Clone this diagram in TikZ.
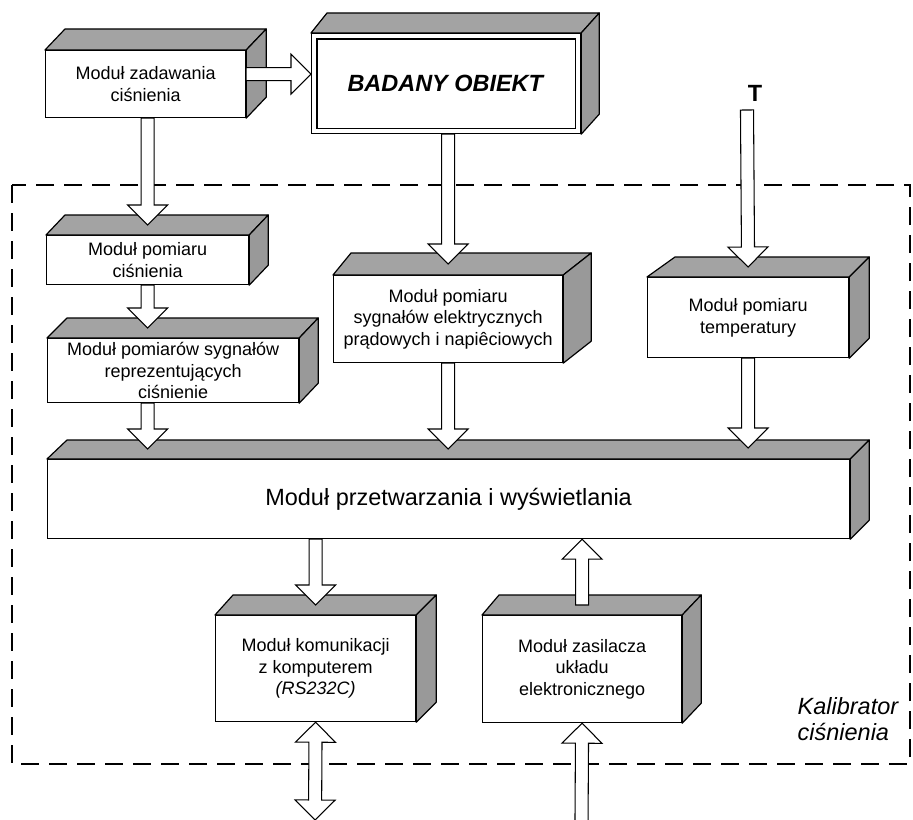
\documentclass[tikz,border=0pt]{standalone}
\usepackage{fontspec}
\setmainfont{Liberation Sans}
\usetikzlibrary{calc}

\tikzset{
  front/.style={draw, line width=0.9pt, fill=white, anchor=north west, inner sep=0pt, align=center, font=\fontsize{13.5}{16.3}\selectfont},
  boxwh/.style 2 args={minimum width=#1*0.75pt, minimum height=#2*0.75pt},
  bigtext/.style={font=\fontsize{17.6}{19.5}\selectfont},
  topface/.style={draw, line width=0.9pt, fill=black!36, line join=round},
  sideface/.style={draw, line width=0.9pt, fill=black!40, line join=round},
  blockarrow/.style={draw, line width=0.8pt, fill=white},
  frame/.style={line width=1.1pt, dash pattern=on 13.5pt off 7.5pt},
}

\newcommand{\shaftw}{4.9pt}
\newcommand{\headw}{15pt}
\newcommand{\headlen}{15pt}

% top and right faces of a box: name, dx left, dx right, dy
\newcommand{\cubefaces}[4]{%
  \draw[topface] (#1.north west) -- ++(#2,-#4) -- ($(#1.north east)+(#3,-#4)$) -- (#1.north east) -- cycle;
  \draw[sideface] (#1.north east) -- ++(#3,-#4) -- ($(#1.south east)+(#3,-#4)$) -- (#1.south east) -- cycle;
}

% hollow arrow from #1 to #2
\newcommand{\blockarrow}[2]{%
  \coordinate (ba-s) at (#1);
  \coordinate (ba-t) at (#2);
  \coordinate (ba-h) at ($(ba-t)!\headlen!(ba-s)$);
  \draw[blockarrow] ($(ba-s)!\shaftw!90:(ba-t)$) -- ($(ba-h)!\shaftw!90:(ba-t)$) -- ($(ba-h)!\headw!90:(ba-t)$) -- (ba-t)
    -- ($(ba-h)!\headw!-90:(ba-t)$) -- ($(ba-h)!\shaftw!-90:(ba-t)$) -- ($(ba-s)!\shaftw!-90:(ba-t)$) -- cycle;
}

% hollow arrow with two heads
\newcommand{\dblarrow}[2]{%
  \coordinate (ba-s) at (#1);
  \coordinate (ba-t) at (#2);
  \coordinate (ba-g) at ($(ba-s)!\headlen!(ba-t)$);
  \coordinate (ba-h) at ($(ba-t)!\headlen!(ba-s)$);
  \draw[blockarrow] (ba-s) -- ($(ba-g)!\headw!90:(ba-t)$) -- ($(ba-g)!\shaftw!90:(ba-t)$) -- ($(ba-h)!\shaftw!90:(ba-t)$)
    -- ($(ba-h)!\headw!90:(ba-t)$) -- (ba-t) -- ($(ba-h)!\headw!-90:(ba-t)$) -- ($(ba-h)!\shaftw!-90:(ba-t)$)
    -- ($(ba-g)!\shaftw!-90:(ba-t)$) -- ($(ba-g)!\headw!-90:(ba-t)$) -- cycle;
}

\begin{document}
\begin{tikzpicture}[x=0.75pt,y=0.75pt,yscale=-1,xscale=1]
\useasboundingbox (0,0) rectangle (913,820);

%Shape: Dashed frame
\draw[frame] (12,185) rectangle (910,764);
% Text Node
\node[bigtext, align=left, anchor=west] (kal) at (793,719) {\itshape Kalibrator\\\itshape ciśnienia};

%Shape: Box
\node[front, boxwh={200}{67}] (zad) at (45,50) {Moduł zadawania\\ciśnienia};
\cubefaces{zad}{20}{20}{21}
%Shape: Box (double frame)
\node[front, boxwh={269}{100}, bigtext] (obj) at (311,33) {\textbf{\textit{BADANY OBIEKT}}};
\draw[line width=0.9pt] ([shift={(6,6)}]obj.north west) rectangle ([shift={(-6,-6)}]obj.south east);
\cubefaces{obj}{16}{18}{20}
%Shape: Box
\node[front, boxwh={202}{49}] (pc) at (46,235) {Moduł pomiaru\\ciśnienia};
\cubefaces{pc}{19}{19}{20}
%Shape: Box
\node[front, boxwh={251}{64}] (ps) at (47,338) {Moduł pomiarów sygnałów\\reprezentujących\\ciśnienie};
\cubefaces{ps}{20}{19}{20}
%Shape: Box
\node[front, boxwh={229}{87}] (pe) at (333,275) {Moduł pomiaru\\sygnałów elektrycznych\\prądowych i napiêciowych};
\cubefaces{pe}{18}{28}{22}
%Shape: Box
\node[front, boxwh={201}{80}] (pt) at (647,277) {Moduł pomiaru\\temperatury};
\cubefaces{pt}{28}{20}{20}
%Shape: Box
\node[front, boxwh={802}{79}, bigtext] (proc) at (47,459) {Moduł przetwarzania i wyświetlania};
\cubefaces{proc}{20}{19}{19}
%Shape: Box
\node[front, boxwh={200}{106}] (kom) at (215,615) {Moduł komunikacji\\z komputerem\\\textit{(RS232C)}};
\cubefaces{kom}{18}{20}{20}
%Shape: Box
\node[front, boxwh={199}{107}] (zas) at (482,615) {Moduł zasilacza\\układu\\elektronicznego};
\cubefaces{zas}{17}{19}{20}

% Text Node
\node[font=\fontsize{17.6}{19.5}\selectfont\bfseries] (tlabel) at (755,93) {T};
\coordinate (tin) at (747,110);
\coordinate (pcout) at (315,820);
\coordinate (pwr) at (581.5,823);

%Block Arrows
\coordinate (zad-r) at ($(zad.east)+(0,-10)$);
\blockarrow{zad-r}{obj.west |- zad-r}
\coordinate (pc-top) at ($(pc.north)+(0,-10)$);
\blockarrow{zad.south -| pc-top}{pc-top}
\coordinate (ps-top) at ($(pc.south |- ps.north)+(0,-10)$);
\blockarrow{pc.south}{ps-top}
\coordinate (proc-a) at ($(pc.south |- proc.north)+(0,-10)$);
\blockarrow{ps.south -| proc-a}{proc-a}
\coordinate (pe-top) at ($(pe.north)+(0,-11)$);
\blockarrow{obj.south -| pe-top}{pe-top}
\coordinate (proc-b) at ($(pe.south |- proc.north)+(0,-10)$);
\blockarrow{pe.south}{proc-b}
\coordinate (pt-top) at ($(pt.north)+(0,-10)$);
\blockarrow{tin}{pt-top}
\coordinate (proc-c) at ($(pt.south |- proc.north)+(0,-11)$);
\blockarrow{pt.south}{proc-c}
\coordinate (kom-top) at ($(kom.north)+(0,-10)$);
\blockarrow{proc.south -| kom-top}{kom-top}
\coordinate (zas-top) at ($(zas.north)+(0,-10)$);
\blockarrow{zas-top}{proc.south -| zas-top}
\dblarrow{kom.south}{pcout}
\blockarrow{pwr}{zas.south}

\end{tikzpicture}
\end{document}
